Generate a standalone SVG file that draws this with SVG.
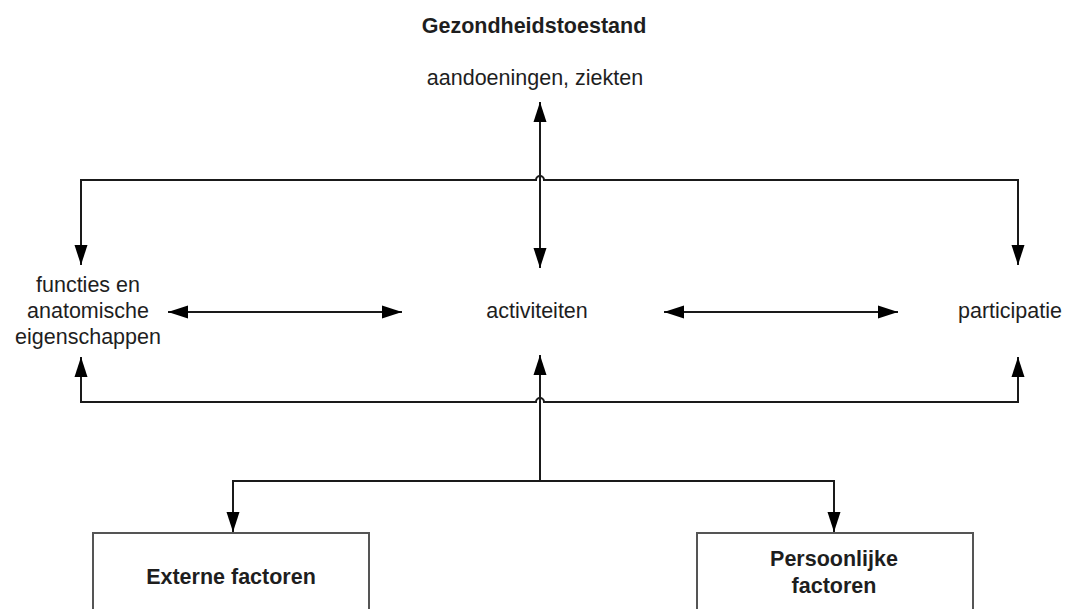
<svg xmlns="http://www.w3.org/2000/svg" width="1066" height="609" viewBox="0 0 1066 609">
<style>
text{font-family:"Liberation Sans",Arial,sans-serif;font-size:21.5px;fill:#1e1e1e;text-anchor:middle}
.b{font-weight:bold}
.ln{fill:none;stroke:#1a1a1a;stroke-width:2}
.box{fill:#ffffff;stroke:#555555;stroke-width:2}
</style>
<defs>
<marker id="ah" markerUnits="userSpaceOnUse" markerWidth="20" markerHeight="14" refX="20" refY="7" orient="auto-start-reverse">
<path d="M0,0.5 L20,7 L0,13.5 z" fill="#000"/>
</marker>
</defs>
<rect width="1066" height="609" fill="#ffffff"/>
<g id="connectors">
<path class="ln" d="M81,265 V180 H536 A4,4 0 0 1 544,180 H1018 V265" marker-start="url(#ah)" marker-end="url(#ah)"/>
<path class="ln" d="M81,357 V402 H536 A4,4 0 0 1 544,402 H1018 V357" marker-start="url(#ah)" marker-end="url(#ah)"/>
<path class="ln" d="M540,102 V268" marker-start="url(#ah)" marker-end="url(#ah)"/>
<path class="ln" d="M168,312 H402" marker-start="url(#ah)" marker-end="url(#ah)"/>
<path class="ln" d="M664,312 H898" marker-start="url(#ah)" marker-end="url(#ah)"/>
<path class="ln" d="M540,481 V355" marker-end="url(#ah)"/>
<path class="ln" d="M233,532 V481 H834 V532" marker-start="url(#ah)" marker-end="url(#ah)"/>
</g>
<g id="gezondheidstoestand">
<text class="b" x="534" y="33">Gezondheidstoestand</text>
<text x="535" y="85">aandoeningen, ziekten</text>
</g>
<g id="functies">
<text x="88" y="292">functies en</text>
<text x="88" y="318">anatomische</text>
<text x="88" y="344">eigenschappen</text>
</g>
<g id="activiteiten">
<text x="537" y="318">activiteiten</text>
</g>
<g id="participatie">
<text x="1010" y="318">participatie</text>
</g>
<g id="externe">
<rect class="box" x="93" y="533" width="276" height="90"/>
<text class="b" x="231" y="584">Externe factoren</text>
</g>
<g id="persoonlijke">
<rect class="box" x="697" y="533" width="276" height="90"/>
<text class="b" x="834" y="566">Persoonlijke</text>
<text class="b" x="834" y="593">factoren</text>
</g>
</svg>
